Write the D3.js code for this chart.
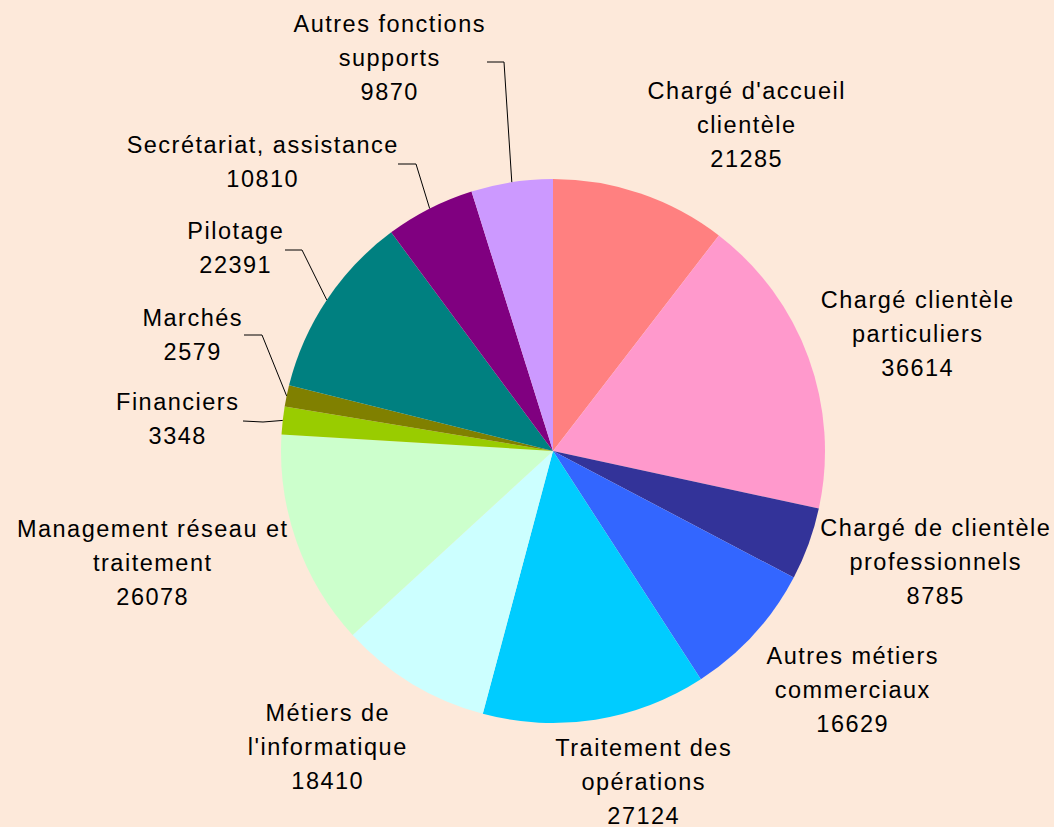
<!DOCTYPE html>
<html>
<head>
<meta charset="utf-8">
<script src="https://cdn.jsdelivr.net/npm/d3@7"></script>
<style>
html,body{margin:0;padding:0;background:#FDE9DA;}
svg{display:block;}
</style>
</head>
<body>
<svg id="chart" width="1054" height="827"></svg>
<script>
// ---- data ----
const categories = [
  "Chargé d'accueil clientèle",
  "Chargé clientèle particuliers",
  "Chargé de clientèle professionnels",
  "Autres métiers commerciaux",
  "Traitement des opérations",
  "Métiers de l'informatique",
  "Management réseau et traitement",
  "Financiers",
  "Marchés",
  "Pilotage",
  "Secrétariat, assistance",
  "Autres fonctions supports"
];
const labelLines = [
  ["Chargé d'accueil", "clientèle"],
  ["Chargé clientèle", "particuliers"],
  ["Chargé de clientèle", "professionnels"],
  ["Autres métiers", "commerciaux"],
  ["Traitement des", "opérations"],
  ["Métiers de", "l'informatique"],
  ["Management réseau et", "traitement"],
  ["Financiers"],
  ["Marchés"],
  ["Pilotage"],
  ["Secrétariat, assistance"],
  ["Autres fonctions", "supports"]
];
const values = [21285, 36614, 8785, 16629, 27124, 18410, 26078, 3348, 2579, 22391, 10810, 9870];
const colors = ["#FF8080", "#FF99CC", "#333399", "#3366FF", "#00CCFF", "#CCFFFF",
                "#CCFFCC", "#99CC00", "#808000", "#008080", "#800080", "#CC99FF"];

// ---- layout ----
const W = 1054, H = 827;
const cx = 553, cy = 451, R = 272;
const labelPos = [
  {x: 746, y: 91},
  {x: 917, y: 300},
  {x: 935, y: 528},
  {x: 852, y: 656},
  {x: 643, y: 748},
  {x: 327, y: 713},
  {x: 152, y: 529},
  {x: 177, y: 402, lead: [[243, 421], [263, 422]]},
  {x: 192, y: 318, lead: [[244, 335], [262, 335]]},
  {x: 235, y: 231, lead: [[285, 250], [302, 250]]},
  {x: 262, y: 145, lead: [[398, 164], [416, 164]]},
  {x: 389, y: 24,  lead: [[487, 62], [504, 62]]}
];
const lineH = 34;
const fontSize = 23.5, letterSp = 1.5;

const svg = d3.select("#chart");
svg.append("rect").attr("width", W).attr("height", H).attr("fill", "#FDE9DA");

const pie = d3.pie().sort(null).value(d => d)
  .startAngle(0).endAngle(2 * Math.PI);
const arcs = pie(values);
const arc = d3.arc().innerRadius(0).outerRadius(R);

const g = svg.append("g").attr("transform", `translate(${cx},${cy})`);
g.selectAll("path.slice").data(arcs).enter().append("path")
  .attr("class", "slice")
  .attr("d", arc)
  .attr("fill", (d, i) => colors[i]);

// leader lines
arcs.forEach((d, i) => {
  const p = labelPos[i];
  if (!p.lead) return;
  const a = (d.startAngle + d.endAngle) / 2;
  const ex = cx + R * Math.sin(a), ey = cy - R * Math.cos(a);
  const pts = p.lead.concat([[ex, ey]]);
  svg.append("path")
    .attr("d", d3.line()(pts))
    .attr("fill", "none")
    .attr("stroke", "#000")
    .attr("stroke-width", 1);
});

// labels
arcs.forEach((d, i) => {
  const p = labelPos[i];
  const lines = labelLines[i].concat([String(values[i])]);
  const t = svg.append("text")
    .attr("text-anchor", "middle")
    .attr("dominant-baseline", "central")
    .attr("font-family", "'Liberation Sans', Arial, sans-serif")
    .attr("font-size", fontSize)
    .attr("letter-spacing", letterSp)
    .attr("fill", "#000");
  lines.forEach((ln, k) => {
    t.append("tspan").attr("x", p.x + letterSp / 2).attr("y", p.y + k * lineH).text(ln);
  });
});
</script>
</body>
</html>
